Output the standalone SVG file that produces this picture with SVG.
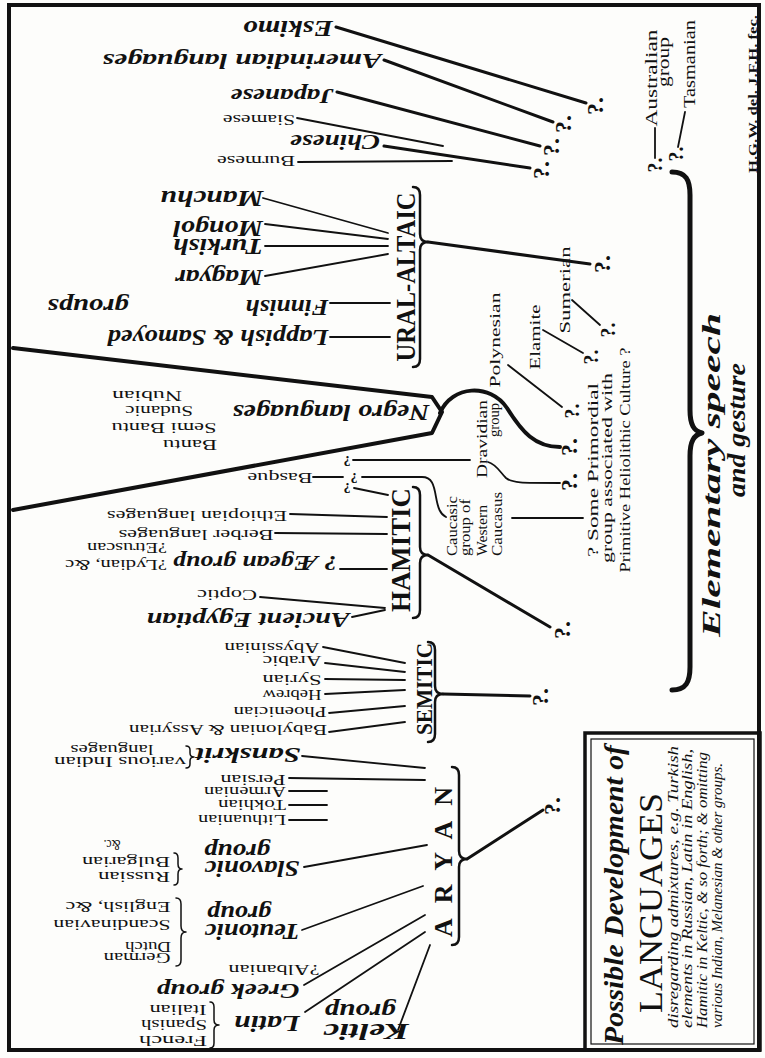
<svg xmlns="http://www.w3.org/2000/svg" width="765" height="1058" viewBox="0 0 765 1058">
<style>
text{font-family:"Liberation Serif","DejaVu Serif",serif;fill:#111}
.b{font-weight:bold;font-style:italic;font-size:24px}
.s{font-size:14px}
.g{font-weight:bold;font-size:27px}
.q{font-weight:bold;font-size:24px}
.qs{font-weight:bold;font-size:20px}
.r{font-size:15px}
.i{font-style:italic;font-size:14px}
.m{text-anchor:middle}
.k{stroke:#111;fill:none;stroke-linecap:round;stroke-linejoin:round}
.w1{stroke-width:1.8}
.w3{stroke-width:3}
.br{stroke-width:2.5}
.bs{stroke-width:1.5}
</style>
<rect width="765" height="1058" fill="#fdfdfb"/>
<rect x="9" y="5" width="750" height="1045" fill="none" stroke="#111" stroke-width="4"/>

<g id="connectors" class="k">
  <g class="w3">
    <path d="M336,27 L586,103"/>
    <path d="M384,60 L553,122"/>
    <path d="M337,92 L540,146"/>
    <path d="M384,146 L530,168"/>
    <path d="M428,242 L590,264"/>
    <path d="M428,555 L550,627"/>
    <path d="M443,694 L530,696"/>
    <path d="M467,859 L543,810"/>
    <path d="M440,413 C452,385 490,383 507,408 C522,432 535,447 560,447" stroke-width="4"/>
    <path d="M13,348 L432,397 L442,412 L432,433 L13,510" stroke-width="4"/>
  </g>
  <g class="w1">
    <path d="M297,118 L443,146"/>
    <path d="M298,162 L452,161"/>
    <path d="M263,198 L388,233"/>
    <path d="M265,224 L388,239"/>
    <path d="M265,246 L388,246"/>
    <path d="M265,276 L388,254"/>
    <path d="M330,303 L390,303"/>
    <path d="M330,337 L390,337"/>
    <path d="M508,365 L562,407"/>
    <path d="M543,330 L583,353"/>
    <path d="M572,300 L600,325"/>
    <path d="M655,128 L655,158"/>
    <path d="M685,112 L678,147"/>
    <path d="M353,460 L470,460"/>
    <path d="M313,477 L343,477"/>
    <path d="M362,477 L422,477 C432,477 434,485 436,497 C438,508 440,514 446,517"/>
    <path d="M354,488 L388,495"/>
    <path d="M488,462 C496,464 500,472 506,478 C512,483 520,483 560,483"/>
    <path d="M512,518 L583,518"/>
    <path d="M290,514 L387,517"/>
    <path d="M275,533 L387,534"/>
    <path d="M340,569 L387,569"/>
    <path d="M260,597 L385,608"/>
    <path d="M352,617 L385,610"/>
    <path d="M323,647 L405,663"/>
    <path d="M325,663 L405,672"/>
    <path d="M325,679 L405,680"/>
    <path d="M325,694 L405,690"/>
    <path d="M329,713 L405,706"/>
    <path d="M329,732 L405,722"/>
    <path d="M302,756 L425,768"/>
    <path d="M289,778 L425,780"/>
    <path d="M289,791 L327,791"/>
    <path d="M289,805 L327,805"/>
    <path d="M289,820 L327,820"/>
    <path d="M304,867 L427,845"/>
    <path d="M302,930 L423,886"/>
    <path d="M304,985 L425,915"/>
    <path d="M305,1012 L425,932"/>
    <path d="M398,1030 L430,945"/>
  </g>
  <g class="br">
    <path d="M413,187 Q420,187 420,195 L420,234 Q420,242 428,242 Q420,242 420,250 L420,359 Q420,367 413,367"/>
    <path d="M413,487 Q420,487 420,495 L420,547 Q420,555 428,555 Q420,555 420,563 L420,610 Q420,618 413,618"/>
    <path d="M428,642 Q435,642 435,650 L435,686 Q435,694 443,694 Q435,694 435,702 L435,734 Q435,742 428,742"/>
    <path d="M452,767 Q459,767 459,775 L459,851 Q459,859 467,859 Q459,859 459,867 L459,937 Q459,945 452,945"/>
    <path d="M672,172 C686,172 690,180 690,195 L690,410 C690,425 694,431 702,433 C694,435 690,441 690,456 L690,667 C690,682 686,690 672,690" stroke-width="5"/>
  </g>
  <g class="bs">
    <path d="M186,746 Q190,746 190,750 L190,753 Q190,757 194,757 Q190,757 190,761 L190,764 Q190,768 186,768"/>
    <path d="M174,853 Q178,853 178,858 L178,864 Q178,869 182,869 Q178,869 178,874 L178,880 Q178,885 174,885"/>
    <path d="M176,898 Q181,898 181,904 L181,926 Q181,932 186,932 Q181,932 181,938 L181,960 Q181,966 176,966"/>
    <path d="M210,1002 Q214,1002 214,1007 L214,1020 Q214,1025 219,1025 Q214,1025 214,1030 L214,1043 Q214,1048 210,1048"/>
  </g>
</g>

<g id="queries">
  <text class="q m" transform="translate(595,106) rotate(-90)" y="8">?.</text>
  <text class="q m" transform="translate(563,124) rotate(-90)" y="8">?.</text>
  <text class="q m" transform="translate(551,147) rotate(-90)" y="8">?.</text>
  <text class="q m" transform="translate(541,170) rotate(-90)" y="8">?.</text>
  <text class="qs m" transform="translate(655,165) rotate(-90)" y="7">?.</text>
  <text class="qs m" transform="translate(676,154) rotate(-90)" y="7">?.</text>
  <text class="q m" transform="translate(602,264) rotate(-90)" y="8">?.</text>
  <text class="qs m" transform="translate(608,330) rotate(-90)" y="7">?.</text>
  <text class="qs m" transform="translate(591,357) rotate(-90)" y="7">?.</text>
  <text class="qs m" transform="translate(572,411) rotate(-90)" y="7">?.</text>
  <text class="q m" transform="translate(569,447) rotate(-90)" y="8">?.</text>
  <text class="q m" transform="translate(569,482) rotate(-90)" y="8">?.</text>
  <text class="q m" transform="translate(562,630) rotate(-90)" y="8">?.</text>
  <text class="q m" transform="translate(540,697) rotate(-90)" y="8">?.</text>
  <text class="q m" transform="translate(552,806) rotate(-90)" y="8">?.</text>
  <text class="s m" font-weight="bold" transform="translate(347,456) rotate(180)">?</text>
  <text class="s m" font-weight="bold" transform="translate(354,473) rotate(180)">?</text>
  <text class="s m" font-weight="bold" transform="translate(347,483) rotate(180)">?</text>
</g>

<g id="eskimo"><text class="b m" transform="translate(288,21) rotate(180)" textLength="90" lengthAdjust="spacingAndGlyphs">Eskimo</text></g>
<g id="amerindian"><text class="b m" style="font-size:22px" transform="translate(242,54) rotate(180)" textLength="279" lengthAdjust="spacingAndGlyphs">Amerindian languages</text></g>
<g id="japanese"><text class="b m" style="font-size:22px" transform="translate(282,89) rotate(180)" textLength="103" lengthAdjust="spacingAndGlyphs">Japanese</text></g>
<g id="siamese"><text class="s m" transform="translate(259,115) rotate(180)" textLength="72" lengthAdjust="spacingAndGlyphs">Siamese</text></g>
<g id="chinese"><text class="b m" style="font-size:22px" transform="translate(335,135) rotate(180)" textLength="90" lengthAdjust="spacingAndGlyphs">Chinese</text></g>
<g id="burmese"><text class="s m" transform="translate(256,156) rotate(180)" textLength="78" lengthAdjust="spacingAndGlyphs">Burmese</text></g>

<g id="manchu"><text class="b m" transform="translate(212,191) rotate(180)" textLength="103" lengthAdjust="spacingAndGlyphs">Manchu</text></g>
<g id="mongol"><text class="b m" transform="translate(218,221) rotate(180)" textLength="90" lengthAdjust="spacingAndGlyphs">Mongol</text></g>
<g id="turkish"><text class="b m" transform="translate(218,239) rotate(180)" textLength="90" lengthAdjust="spacingAndGlyphs">Turkish</text></g>
<g id="magyar"><text class="b m" transform="translate(219,270) rotate(180)" textLength="88" lengthAdjust="spacingAndGlyphs">Magyar</text></g>
<g id="finnish"><text class="b m" transform="translate(287,300) rotate(180)" textLength="83" lengthAdjust="spacingAndGlyphs">Finnish</text></g>
<g id="lappish">
  <text class="b m" transform="translate(218,330) rotate(180)" textLength="221" lengthAdjust="spacingAndGlyphs">Lappish &amp; Samoyed</text>
  <text class="b m" transform="translate(88,299) rotate(180)" textLength="81" lengthAdjust="spacingAndGlyphs">groups</text>
</g>
<g id="ural-altaic"><text class="g m" transform="translate(415,277) rotate(-90)" textLength="169" lengthAdjust="spacingAndGlyphs">URAL-ALTAIC</text></g>

<g id="negro">
  <text class="b m" transform="translate(331,405) rotate(180)" textLength="197" lengthAdjust="spacingAndGlyphs">Negro languages</text>
  <text class="s m" transform="translate(147,391) rotate(180)" textLength="70" lengthAdjust="spacingAndGlyphs">Nubian</text>
  <text class="s m" transform="translate(159,406) rotate(180)" textLength="68" lengthAdjust="spacingAndGlyphs">Sudanic</text>
  <text class="s m" transform="translate(164,423) rotate(180)" textLength="105" lengthAdjust="spacingAndGlyphs">Semi Bantu</text>
  <text class="s m" transform="translate(190,440) rotate(180)" textLength="54" lengthAdjust="spacingAndGlyphs">Bantu</text>
</g>
<g id="basque"><text class="s m" transform="translate(280,473) rotate(180)" textLength="65" lengthAdjust="spacingAndGlyphs">Basque</text></g>

<g id="ethiopian"><text class="s m" transform="translate(197,511) rotate(180)" textLength="180" lengthAdjust="spacingAndGlyphs">Ethiopian languages</text></g>
<g id="berber"><text class="s m" transform="translate(196,530) rotate(180)" textLength="155" lengthAdjust="spacingAndGlyphs">Berber languages</text></g>
<g id="aegean">
  <text class="b m" style="font-size:21px" transform="translate(255,556) rotate(180)" textLength="164" lengthAdjust="spacingAndGlyphs">? Ægean group</text>
  <text class="s m" transform="translate(127,543) rotate(180)" textLength="80" lengthAdjust="spacingAndGlyphs">?Etruscan</text>
  <text class="s m" transform="translate(116,560) rotate(180)" textLength="102" lengthAdjust="spacingAndGlyphs">?Lydian, &amp;c</text>
</g>
<g id="coptic"><text class="s m" transform="translate(227,590) rotate(180)" textLength="60" lengthAdjust="spacingAndGlyphs">Coptic</text></g>
<g id="egyptian"><text class="b m" style="font-size:22px" transform="translate(248,613) rotate(180)" textLength="203" lengthAdjust="spacingAndGlyphs">Ancient Egyptian</text></g>
<g id="hamitic"><text class="g m" transform="translate(410,550) rotate(-90)" textLength="124" lengthAdjust="spacingAndGlyphs">HAMITIC</text></g>

<g id="semitic-leaves">
  <text class="s m" transform="translate(272,643) rotate(180)" textLength="95" lengthAdjust="spacingAndGlyphs">Abyssinian</text>
  <text class="s m" transform="translate(292,656) rotate(180)" textLength="59" lengthAdjust="spacingAndGlyphs">Arabic</text>
  <text class="s m" transform="translate(292,675) rotate(180)" textLength="59" lengthAdjust="spacingAndGlyphs">Syrian</text>
  <text class="s m" transform="translate(292,690) rotate(180)" textLength="59" lengthAdjust="spacingAndGlyphs">Hebrew</text>
  <text class="s m" transform="translate(280,707) rotate(180)" textLength="93" lengthAdjust="spacingAndGlyphs">Phoenician</text>
  <text class="s m" transform="translate(228,725) rotate(180)" textLength="198" lengthAdjust="spacingAndGlyphs">Babylonian &amp; Assyrian</text>
</g>
<g id="semitic"><text class="g m" style="font-size:24px" transform="translate(432,689) rotate(-90)" textLength="92" lengthAdjust="spacingAndGlyphs">SEMITIC</text></g>

<g id="sanskrit">
  <text class="b m" style="font-size:22px" transform="translate(248,748) rotate(180)" textLength="105" lengthAdjust="spacingAndGlyphs">Sanskrit</text>
  <text class="s m" transform="translate(120,757) rotate(180)" textLength="132" lengthAdjust="spacingAndGlyphs">various Indian</text>
  <text class="s m" transform="translate(112,745) rotate(180)" textLength="83" lengthAdjust="spacingAndGlyphs">languages</text>
</g>
<g id="persian"><text class="s m" transform="translate(253,775) rotate(180)" textLength="65" lengthAdjust="spacingAndGlyphs">Persian</text></g>
<g id="armenian"><text class="s m" transform="translate(245,787) rotate(180)" textLength="82" lengthAdjust="spacingAndGlyphs">Armenian</text></g>
<g id="tokhian"><text class="s m" transform="translate(252,800) rotate(180)" textLength="68" lengthAdjust="spacingAndGlyphs">Tokhian</text></g>
<g id="lithuanian"><text class="s m" transform="translate(242,815) rotate(180)" textLength="88" lengthAdjust="spacingAndGlyphs">Lithuanian</text></g>
<g id="slavonic">
  <text class="b m" transform="translate(252,861) rotate(180)" textLength="95" lengthAdjust="spacingAndGlyphs">Slavonic</text>
  <text class="b m" transform="translate(237,844) rotate(180)" textLength="66" lengthAdjust="spacingAndGlyphs">group</text>
  <text class="s m" transform="translate(134,872) rotate(180)" textLength="72" lengthAdjust="spacingAndGlyphs">Russian</text>
  <text class="s m" transform="translate(126,857) rotate(180)" textLength="88" lengthAdjust="spacingAndGlyphs">Bulgarian</text>
  <text class="s m" transform="translate(112,840) rotate(180)" textLength="17" lengthAdjust="spacingAndGlyphs">&amp;c.</text>
</g>
<g id="teutonic">
  <text class="b m" transform="translate(252,924) rotate(180)" textLength="95" lengthAdjust="spacingAndGlyphs">Teutonic</text>
  <text class="b m" transform="translate(239,906) rotate(180)" textLength="64" lengthAdjust="spacingAndGlyphs">group</text>
  <text class="s m" transform="translate(137,953) rotate(180)" textLength="67" lengthAdjust="spacingAndGlyphs">German</text>
  <text class="s m" transform="translate(148,942) rotate(180)" textLength="46" lengthAdjust="spacingAndGlyphs">Dutch</text>
  <text class="s m" transform="translate(112,920) rotate(180)" textLength="117" lengthAdjust="spacingAndGlyphs">Scandinavian</text>
  <text class="s m" transform="translate(118,902) rotate(180)" textLength="105" lengthAdjust="spacingAndGlyphs">English, &amp;c</text>
</g>
<g id="greek">
  <text class="s m" transform="translate(274,965) rotate(180)" textLength="91" lengthAdjust="spacingAndGlyphs">?Albanian</text>
  <text class="b m" style="font-size:22px" transform="translate(228,984) rotate(180)" textLength="143" lengthAdjust="spacingAndGlyphs">Greek group</text>
</g>
<g id="latin">
  <text class="b m" transform="translate(267,1016) rotate(180)" textLength="66" lengthAdjust="spacingAndGlyphs">Latin</text>
  <text class="s m" transform="translate(178,1005) rotate(180)" textLength="57" lengthAdjust="spacingAndGlyphs">Italian</text>
  <text class="s m" transform="translate(174,1020) rotate(180)" textLength="66" lengthAdjust="spacingAndGlyphs">Spanish</text>
  <text class="s m" transform="translate(173,1036) rotate(180)" textLength="68" lengthAdjust="spacingAndGlyphs">French</text>
</g>
<g id="keltic">
  <text class="b m" transform="translate(366,1024) rotate(180)" textLength="86" lengthAdjust="spacingAndGlyphs">Keltic</text>
  <text class="b m" transform="translate(360,1004) rotate(180)" textLength="71" lengthAdjust="spacingAndGlyphs">group</text>
</g>
<g id="aryan"><text class="g m" style="font-size:26px" transform="translate(452,862) rotate(-90)" textLength="150" lengthAdjust="spacing">ARYAN</text></g>

<g id="australian">
  <text class="r m" style="font-size:16px" transform="translate(657,78) rotate(-90)" textLength="97" lengthAdjust="spacingAndGlyphs">Australian</text>
  <text class="r m" style="font-size:16px" transform="translate(669,62) rotate(-90)" textLength="50" lengthAdjust="spacingAndGlyphs">group</text>
</g>
<g id="tasmanian"><text class="r m" style="font-size:16px" transform="translate(695,64) rotate(-90)" textLength="88" lengthAdjust="spacingAndGlyphs">Tasmanian</text></g>
<g id="sumerian"><text class="r m" transform="translate(570,290) rotate(-90)" textLength="87" lengthAdjust="spacingAndGlyphs">Sumerian</text></g>
<g id="elamite"><text class="r m" transform="translate(540,337) rotate(-90)" textLength="65" lengthAdjust="spacingAndGlyphs">Elamite</text></g>
<g id="polynesian"><text class="r m" transform="translate(500,340) rotate(-90)" textLength="95" lengthAdjust="spacingAndGlyphs">Polynesian</text></g>
<g id="dravidian">
  <text class="r m" transform="translate(487,439) rotate(-90)" textLength="78" lengthAdjust="spacingAndGlyphs">Dravidian</text>
  <text class="r m" transform="translate(499,420) rotate(-90)" textLength="34" lengthAdjust="spacingAndGlyphs">group</text>
</g>
<g id="caucasic">
  <text class="s" transform="translate(457,556) rotate(-90)" textLength="60" lengthAdjust="spacingAndGlyphs">Caucasic</text>
  <text class="s" transform="translate(470,556) rotate(-90)" textLength="57" lengthAdjust="spacingAndGlyphs">group of</text>
  <text class="s" transform="translate(487,556) rotate(-90)" textLength="51" lengthAdjust="spacingAndGlyphs">Western</text>
  <text class="s" transform="translate(502,556) rotate(-90)" textLength="64" lengthAdjust="spacingAndGlyphs">Caucasus</text>
</g>
<g id="primordial">
  <text class="r m" transform="translate(598,470) rotate(-90)" textLength="174" lengthAdjust="spacingAndGlyphs">? Some Primordial</text>
  <text class="r m" transform="translate(612,468) rotate(-90)" textLength="190" lengthAdjust="spacingAndGlyphs">group associated with</text>
  <text class="r m" transform="translate(630,460) rotate(-90)" textLength="225" lengthAdjust="spacingAndGlyphs">Primitive Heliolithic Culture ?</text>
</g>
<g id="elementary">
  <text class="b m" style="font-size:26px" transform="translate(720,475) rotate(-90)" textLength="324" lengthAdjust="spacingAndGlyphs">Elementary speech</text>
  <text class="b m" style="font-size:26px" transform="translate(745,430) rotate(-90)" textLength="134" lengthAdjust="spacingAndGlyphs">and gesture</text>
</g>
<g id="credit"><text class="m" style="font-size:12px;font-weight:bold" transform="translate(757,94) rotate(-90)" textLength="158" lengthAdjust="spacingAndGlyphs">H.G.W. del. J.F.H. fec.</text></g>

<g id="title">
  <rect x="585" y="733" width="175" height="317" fill="none" stroke="#111" stroke-width="3.5"/>
  <rect x="591" y="739" width="163" height="305" fill="none" stroke="#111" stroke-width="1.2"/>
  <text class="b m" style="font-size:28px" transform="translate(623,895) rotate(-90)" textLength="300" lengthAdjust="spacingAndGlyphs">Possible Development of</text>
  <text class="m" style="font-size:34px" transform="translate(662,903) rotate(-90)" textLength="220" lengthAdjust="spacingAndGlyphs">LANGUAGES</text>
  <text class="i" transform="translate(678,1028) rotate(-90)" textLength="282" lengthAdjust="spacingAndGlyphs">disregarding admixtures, e.g. Turkish</text>
  <text class="i" transform="translate(692,1028) rotate(-90)" textLength="279" lengthAdjust="spacingAndGlyphs">elements in Russian, Latin in English,</text>
  <text class="i" transform="translate(707,1028) rotate(-90)" textLength="276" lengthAdjust="spacingAndGlyphs">Hamitic in Keltic, &amp; so forth; &amp; omitting</text>
  <text class="i" transform="translate(722,1028) rotate(-90)" textLength="265" lengthAdjust="spacingAndGlyphs">various Indian, Melanesian &amp; other groups.</text>
</g>
</svg>
